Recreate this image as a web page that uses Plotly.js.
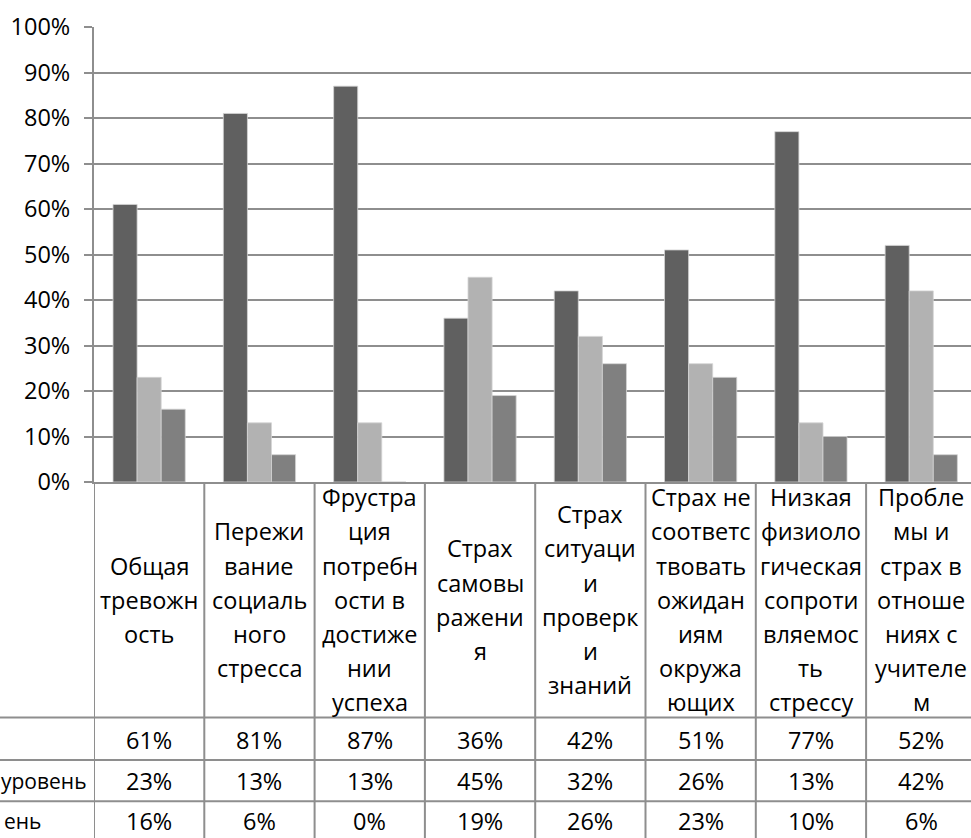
<!DOCTYPE html>
<html>
<head>
<meta charset="utf-8">
<script src="https://cdn.plot.ly/plotly-3.0.1.min.js"></script>
<style>
html,body{margin:0;padding:0;overflow:hidden;background:#fff;}
#chart{width:971px;height:838px;}
</style>
</head>
<body>
<div id="chart"></div>
<script>
// ---- data ----
const categories = [
  "Общая тревожность",
  "Переживание социального стресса",
  "Фрустрация потребности в достижении успеха",
  "Страх самовыражения",
  "Страх ситуации проверки знаний",
  "Страх не соответствовать ожиданиям окружающих",
  "Низкая физиологическая сопротивляемость стрессу",
  "Проблемы и страх в отношениях с учителем"
];
const categoryLabelLines = [
  ["Общая","тревожн","ость"],
  ["Пережи","вание","социаль","ного","стресса"],
  ["Фрустра","ция","потребн","ости в","достиже","нии","успеха"],
  ["Страх","самовы","ражени","я"],
  ["Страх","ситуаци","и","проверк","и","знаний"],
  ["Страх не","соответс","твовать","ожидан","иям","окружа","ющих"],
  ["Низкая","физиоло","гическая","сопроти","вляемос","ть","стрессу"],
  ["Пробле","мы и","страх в","отноше","ниях с","учителе","м"]
];
const seriesNames = ["Высокий уровень", "Средний уровень", "Низкий уровень"];
// visible (page-edge-cropped) parts of the data-table row headers
const rowHeaderVisible = ["", "уровень", "ень"];
const highValues = [61, 81, 87, 36, 42, 51, 77, 52];
const midValues  = [23, 13, 13, 45, 32, 26, 13, 42];
const lowValues  = [16, 6, 0, 19, 26, 23, 10, 6];
const yTickVals = [0,10,20,30,40,50,60,70,80,90,100];
const yTickText = ["0%","10%","20%","30%","40%","50%","60%","70%","80%","90%","100%"];

// ---- styling / geometry ----
const W = 971, H = 838;
const mL = 94, mT = 26.5, mB = 355.5, mR = 0;
const plotH = H - mT - mB;
const plotW = W - mL - mR;
const catW = 110.3;
const zeroY = H - mB;
const py = Y => (zeroY - Y) / plotH;
const px = X => (X - mL) / plotW;
const colors = ["#606060", "#b2b2b2", "#808080"];
const lineColor = "#8e8e8e";
const fontFam = "'Open Sans', 'Noto Sans', sans-serif";
const fontSize = 23.5;

const allSeries = [highValues, midValues, lowValues];
const traces = allSeries.map((vals, i) => ({
  type: "bar",
  name: seriesNames[i],
  x: categories,
  y: vals,
  marker: {color: colors[i], line: {color: "#d4d4d4", width: 0.8}},
  hoverinfo: "x+y+name"
}));

const rowLines = [718.5, 761, 802.5];
const rowCenters = [741, 782, 822];
const labelCellCenter = (zeroY + rowLines[0]) / 2;
const lineStep = 34.3;

const shapes = [];
const annotations = [];

rowLines.forEach(Y => {
  shapes.push({type:"line", xref:"paper", yref:"paper", x0:px(0), x1:1.02, y0:py(Y), y1:py(Y),
    line:{color:lineColor, width:2}});
});
for (let i = 0; i <= categories.length; i++) {
  shapes.push({type:"line", xref:"x", yref:"paper", x0:i-0.5, x1:i-0.5, y0:py(zeroY), y1:py(H+5),
    line:{color:lineColor, width:2}});
}

categoryLabelLines.forEach((lines, ci) => {
  const n = lines.length;
  lines.forEach((txt, k) => {
    const Y = labelCellCenter + (k - (n - 1) / 2) * lineStep;
    annotations.push({xref:"x", yref:"paper", x:categories[ci], y:py(Y), text:txt,
      showarrow:false, xanchor:"center", yanchor:"middle",
      font:{family:fontFam, size:fontSize, color:"#000"}});
  });
});
allSeries.forEach((vals, si) => {
  vals.forEach((v, ci) => {
    annotations.push({xref:"x", yref:"paper", x:categories[ci], y:py(rowCenters[si]), text:v + "%",
      showarrow:false, xanchor:"center", yanchor:"middle",
      font:{family:fontFam, size:fontSize, color:"#000"}});
  });
});
const rowHeaderRight = [0, 88, 42];
rowHeaderVisible.forEach((txt, si) => {
  if (!txt) return;
  annotations.push({xref:"paper", yref:"paper", x:px(rowHeaderRight[si]), y:py(rowCenters[si]), text:txt,
    showarrow:false, xanchor:"right", yanchor:"middle", borderpad:0,
    font:{family:fontFam, size:21, color:"#000"}});
});

const layout = {
  width: W, height: H,
  margin: {l:mL, r:mR, t:mT, b:mB, pad:0},
  paper_bgcolor: "#fff", plot_bgcolor: "#fff",
  showlegend: false,
  barmode: "group",
  bargap: 0.345,
  bargroupgap: 0,
  xaxis: {
    type: "category",
    range: [-0.5, -0.5 + plotW / catW],
    showticklabels: false, ticks: "",
    showgrid: false, zeroline: false,
    showline: true, linecolor: lineColor, linewidth: 2,
    fixedrange: true
  },
  yaxis: {
    range: [0, 100],
    tickvals: yTickVals, ticktext: yTickText,
    ticks: "outside", ticklen: 8, tickcolor: lineColor, tickwidth: 2,
    ticklabelstandoff: 9,
    showgrid: true, gridcolor: lineColor, gridwidth: 2,
    zeroline: false,
    showline: true, linecolor: lineColor, linewidth: 2,
    tickfont: {family: fontFam, size: fontSize, color: "#000"},
    fixedrange: true
  },
  shapes: shapes,
  annotations: annotations
};

Plotly.newPlot("chart", traces, layout, {displayModeBar: false, staticPlot: true});
</script>
</body>
</html>
